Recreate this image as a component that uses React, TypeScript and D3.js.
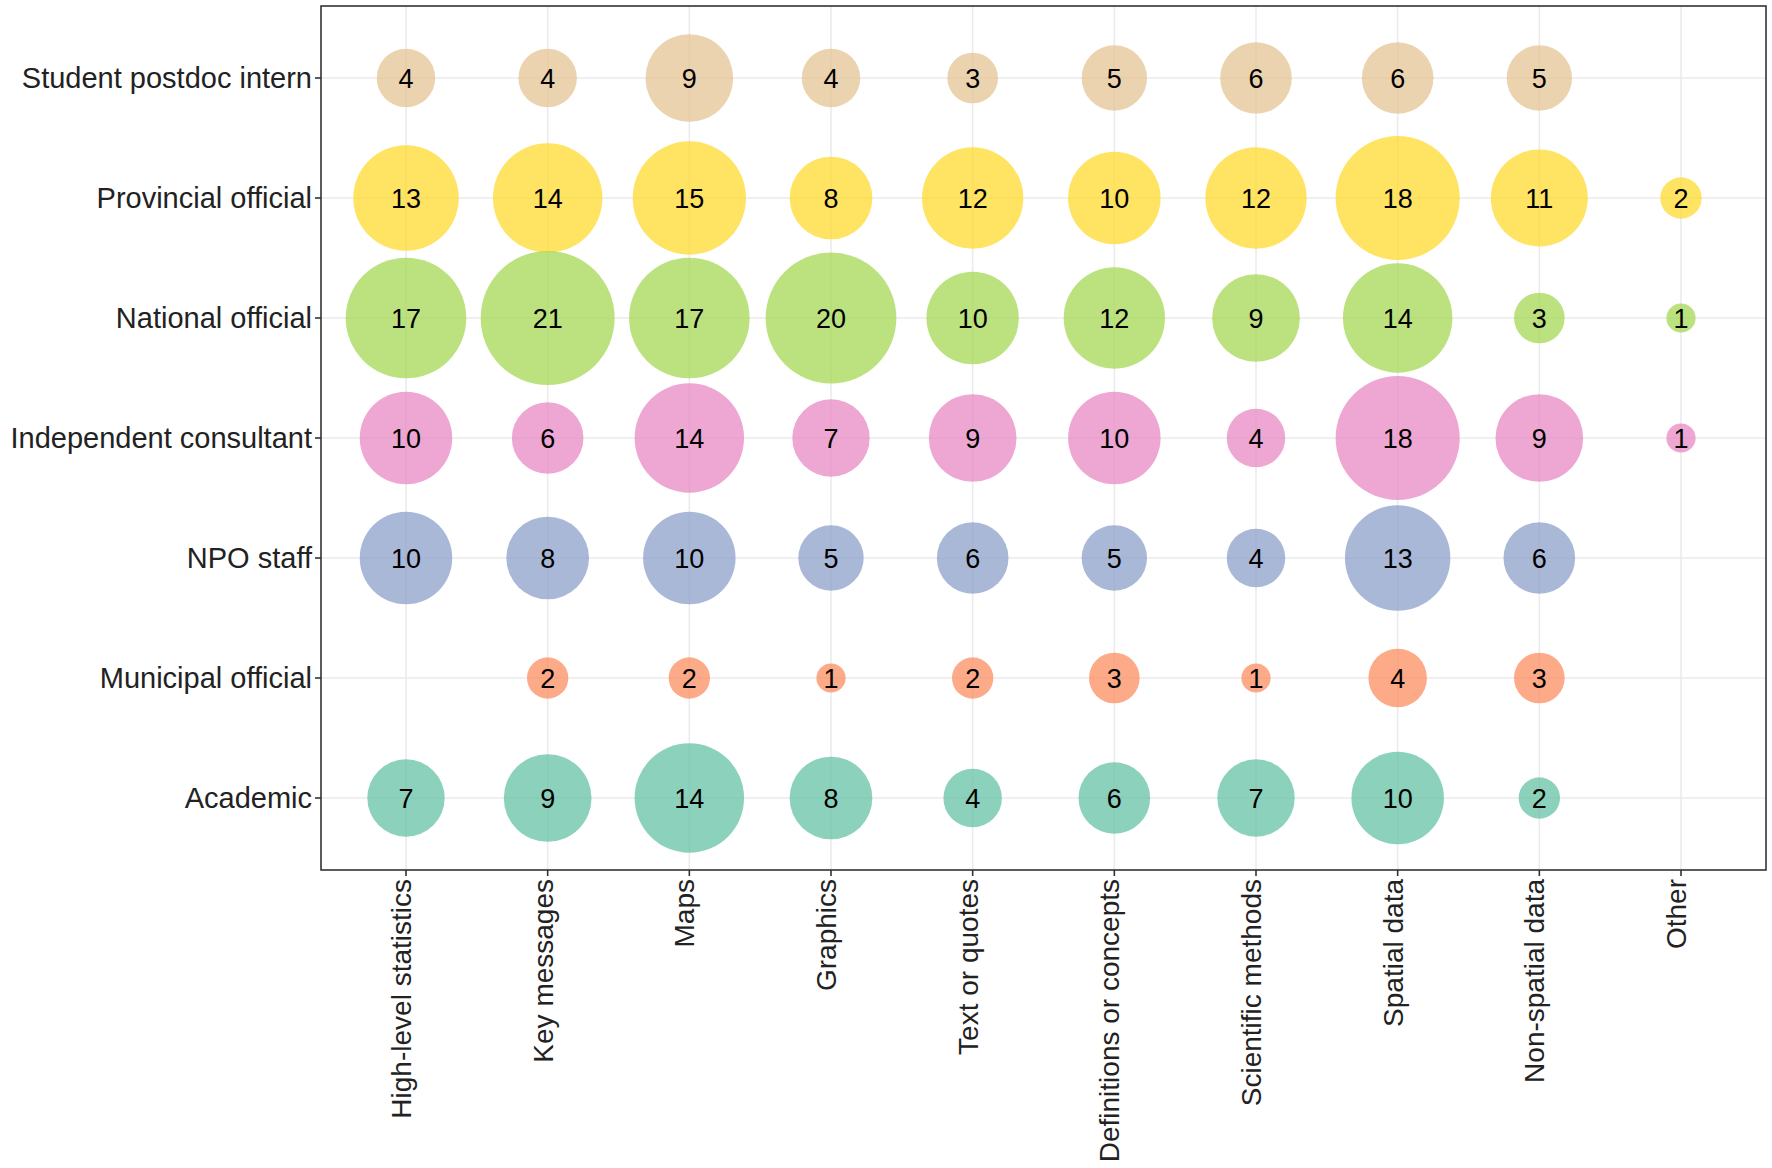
import React from "react";
import * as d3 from "d3";

const categories = [
  "High-level statistics",
  "Key messages",
  "Maps",
  "Graphics",
  "Text or quotes",
  "Definitions or concepts",
  "Scientific methods",
  "Spatial data",
  "Non-spatial data",
  "Other",
];

const groups = [
  "Student postdoc intern",
  "Provincial official",
  "National official",
  "Independent consultant",
  "NPO staff",
  "Municipal official",
  "Academic",
];

const groupColors = ["#E5C494", "#FFD92F", "#A6D854", "#E78AC3", "#8DA0CB", "#FC8D62", "#66C2A5"];

const studentValues = [4, 4, 9, 4, 3, 5, 6, 6, 5, null];
const provincialValues = [13, 14, 15, 8, 12, 10, 12, 18, 11, 2];
const nationalValues = [17, 21, 17, 20, 10, 12, 9, 14, 3, 1];
const independentValues = [10, 6, 14, 7, 9, 10, 4, 18, 9, 1];
const npoValues = [10, 8, 10, 5, 6, 5, 4, 13, 6, null];
const municipalValues = [null, 2, 2, 1, 2, 3, 1, 4, 3, null];
const academicValues = [7, 9, 14, 8, 4, 6, 7, 10, 2, null];

const seriesValues = [
  studentValues,
  provincialValues,
  nationalValues,
  independentValues,
  npoValues,
  municipalValues,
  academicValues,
];

const W = 1772;
const H = 1168;
const panel = { left: 321, right: 1766, top: 6, bottom: 870 };
const FONT = "'Liberation Sans', Arial, sans-serif";

export default function App() {
  const x = d3
    .scalePoint<string>()
    .domain(categories)
    .range([panel.left, panel.right])
    .padding(0.6);
  const y = d3
    .scalePoint<string>()
    .domain(groups)
    .range([panel.top, panel.bottom])
    .padding(0.6);
  const r = d3.scaleSqrt().domain([0, 21]).range([0, 67]);

  const points: { g: number; c: number; v: number }[] = [];
  seriesValues.forEach((vals, gi) => {
    vals.forEach((v, ci) => {
      if (v != null) points.push({ g: gi, c: ci, v });
    });
  });

  return (
    <svg
      width={W}
      height={H}
      viewBox={`0 0 ${W} ${H}`}
      style={{ position: "absolute", left: 0, top: 0, background: "#fff" }}
      fontFamily={FONT}
    >
      <rect x={0} y={0} width={W} height={H} fill="#fff" />
      {/* grid */}
      {categories.map((c) => (
        <line
          key={"gx" + c}
          x1={x(c)}
          x2={x(c)}
          y1={panel.top}
          y2={panel.bottom}
          stroke="#EBEBEB"
          strokeWidth={1.6}
        />
      ))}
      {groups.map((g) => (
        <line
          key={"gy" + g}
          x1={panel.left}
          x2={panel.right}
          y1={y(g)}
          y2={y(g)}
          stroke="#EBEBEB"
          strokeWidth={1.6}
        />
      ))}
      {/* bubbles */}
      {points.map((p, i) => (
        <circle
          key={"c" + i}
          cx={x(categories[p.c])}
          cy={y(groups[p.g])}
          r={r(p.v)}
          fill={groupColors[p.g]}
          fillOpacity={0.75}
        />
      ))}
      {points.map((p, i) => (
        <text
          key={"t" + i}
          x={x(categories[p.c])}
          y={y(groups[p.g])}
          dy="0.36em"
          textAnchor="middle"
          fontSize={27}
          fill="#000"
        >
          {p.v}
        </text>
      ))}
      {/* panel border */}
      <rect
        x={panel.left}
        y={panel.top}
        width={panel.right - panel.left}
        height={panel.bottom - panel.top}
        fill="none"
        stroke="#333"
        strokeWidth={1.6}
      />
      {/* y axis */}
      {groups.map((g) => (
        <g key={"ya" + g}>
          <line x1={panel.left - 6} x2={panel.left} y1={y(g)} y2={y(g)} stroke="#333" strokeWidth={1.6} />
          <text
            x={panel.left - 9}
            y={y(g)}
            dy="0.36em"
            textAnchor="end"
            fontSize={29}
            fill="#222"
          >
            {g}
          </text>
        </g>
      ))}
      {/* x axis */}
      {categories.map((c) => (
        <g key={"xa" + c}>
          <line x1={x(c)} x2={x(c)} y1={panel.bottom} y2={panel.bottom + 6} stroke="#333" strokeWidth={1.6} />
          <text
            transform={`translate(${x(c)},${panel.bottom + 9}) rotate(-90)`}
            dy="0.18em"
            textAnchor="end"
            fontSize={28}
            fill="#222"
          >
            {c}
          </text>
        </g>
      ))}
    </svg>
  );
}
